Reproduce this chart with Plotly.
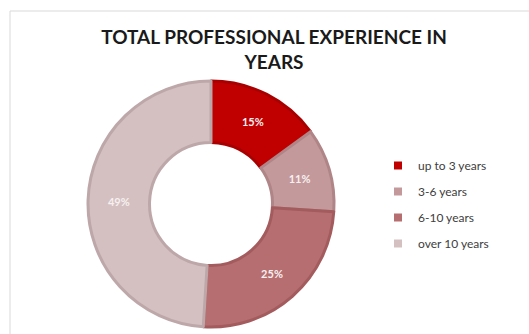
import plotly.graph_objects as go

# Survey breakdown: total professional experience
categories = ["up to 3 years", "3-6 years", "6-10 years", "over 10 years"]
shares = [15, 11, 25, 49]

fill_colors = ["#C00000", "#C4999B", "#B76E70", "#D4C0C1"]
edge_colors = ["#A80000", "#B08587", "#A35B5D", "#BDA7A9"]

W, H = 529, 334
cx, cy, r = 211, 204, 123  # donut centre and outer radius in px

fig = go.Figure()

fig.add_trace(go.Pie(
    labels=categories,
    values=shares,
    hole=0.5,
    sort=False,
    direction="clockwise",
    rotation=0,
    marker=dict(colors=fill_colors, line=dict(color=edge_colors, width=3)),
    texttemplate="<b>%{value}%</b>",
    textposition="inside",
    insidetextorientation="horizontal",
    textfont=dict(family="Lato", size=11, color="#F6F0F0"),
    showlegend=False,
    domain=dict(x=[(cx - r) / W, (cx + r) / W],
                y=[(H - cy - r) / H, (H - cy + r) / H]),
))

# legend entries with small square swatches
for name, col in zip(categories, fill_colors):
    fig.add_trace(go.Scatter(
        x=[None], y=[None], mode="markers", name=name,
        legendgroup=name,
        marker=dict(symbol="square", size=8, color=col),
    ))

fig.update_layout(
    width=W, height=H,
    margin=dict(l=0, r=0, t=0, b=0),
    paper_bgcolor="white",
    plot_bgcolor="white",
    font=dict(family="Lato", color="#404040"),
    title=dict(
        text="<b>TOTAL PROFESSIONAL EXPERIENCE IN<br>YEARS</b>",
        x=274 / W, xanchor="center",
        y=1 - 44 / H, yanchor="top", yref="container",
        font=dict(family="Lato", size=19, color="#1A1A1A"),
    ),
    xaxis=dict(visible=False),
    yaxis=dict(visible=False),
    legend=dict(
        x=378 / W, xanchor="left",
        y=1 - 151 / H, yanchor="top",
        font=dict(family="Lato", size=12, color="#404040"),
        tracegroupgap=7,
        bgcolor="rgba(0,0,0,0)",
    ),
    shapes=[dict(
        type="rect", xref="paper", yref="paper",
        x0=10 / W, x1=1.05, y0=-0.05, y1=1 - 11 / H,
        line=dict(color="#D9D9D9", width=1),
        layer="below",
    )],
)

fig.write_html("out.html")
